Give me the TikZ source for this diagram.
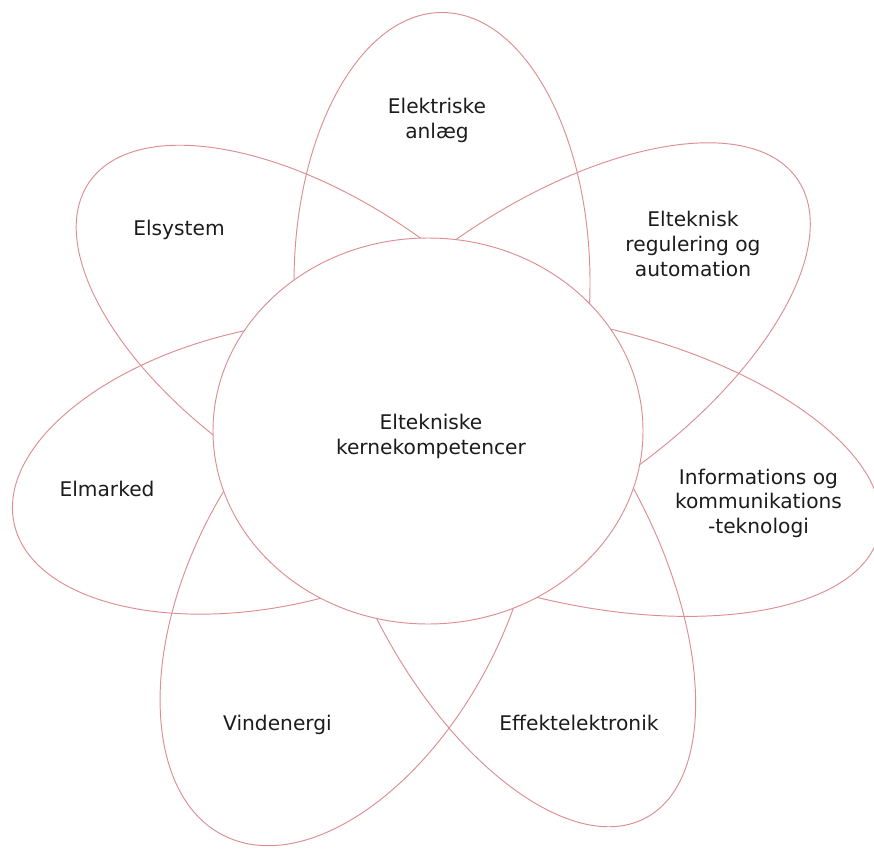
\documentclass[tikz,border=0pt]{standalone}
\usepackage{fontspec}
\setmainfont{DejaVu Sans}
\definecolor{petalred}{RGB}{221,142,146}
\definecolor{textdark}{RGB}{28,28,28}
\begin{document}
\begin{tikzpicture}[x=1pt,y=-1pt,
  petal/.style={draw=petalred, line width=0.95pt},
  core/.style={draw=petalred, fill=white, line width=0.95pt},
  petaltext/.style={font=\fontsize{20.2}{24.7}\selectfont, text=textdark,
                    align=center, inner sep=0pt}]
\useasboundingbox (0,0) rectangle (874,851);

% petals, drawn as outlines only
\draw[petal] (442,282.5) ellipse [x radius=148pt, y radius=270pt];
\draw[petal, rotate around={34.8:(541,357)}]
  (541,357) ellipse [x radius=312pt, y radius=145pt];
\draw[petal, rotate around={-13:(577,464)}]
  (577,464) ellipse [x radius=310pt, y radius=139pt];
\draw[petal, rotate around={-62:(509,561)}]
  (509,561) ellipse [x radius=291pt, y radius=144pt];
\draw[petal, rotate around={-117.3:(348.5,591.6)}]
  (348.5,591.6) ellipse [x radius=274pt, y radius=158pt];
\draw[petal, rotate around={-167.6:(272,467)}]
  (272,467) ellipse [x radius=264pt, y radius=139pt];
\draw[petal, rotate around={145.8:(328,345)}]
  (328,345) ellipse [x radius=289pt, y radius=140.6pt];

% centre disc covers the inner ends of the petals
\draw[core] (428,431) ellipse [x radius=215pt, y radius=193pt];

% labels
\node[petaltext] (anlaeg)     at (437,120.5) {Elektriske\\anlæg};
\node[petaltext] (elsystem)   at (179,230)   {Elsystem};
\node[petaltext] (regulering) at (693,244)   {Elteknisk\\regulering og\\automation};
\node[petaltext] (kerne)      at (431,436.7) {Eltekniske\\kernekompetencer};
\node[petaltext] (elmarked)   at (107,488.5) {Elmarked};
\node[petaltext] (ikt)        at (758.5,503.3) {Informations og\\kommunikations\\-teknologi};
\node[petaltext] (effekt)     at (579,723.3) {Effektelektronik};
\node[petaltext] (vind)       at (277.5,725) {Vindenergi};
\end{tikzpicture}
\end{document}
